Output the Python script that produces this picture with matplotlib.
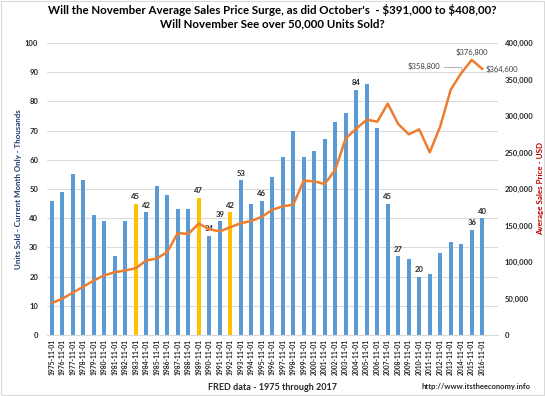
import matplotlib
matplotlib.use("Agg")
import matplotlib.pyplot as plt
import numpy as np

plt.rcParams['font.family'] = ['Lato', 'DejaVu Sans']

years = list(range(1975, 2017))
tick_labels = [f"{y}-11-01" for y in years]

units_sold = [46, 49, 55, 53, 41, 39, 27, 39, 45, 42,
              51, 48, 43, 43, 47, 34, 39, 42, 53, 45,
              46, 54, 61, 70, 61, 63, 67, 73, 76, 84,
              86, 71, 45, 27, 26, 20, 21, 28, 32, 31,
              36, 40]

avg_price = [43700, 49700, 58000, 66200, 74500, 81800, 86000, 88300, 91500, 102000,
             104800, 113600, 139700, 138400, 152600, 144800, 142000, 147600, 153100, 156300,
             161800, 171500, 176300, 178500, 211400, 210500, 206800, 226500, 269400, 282600,
             295000, 292200, 316900, 289000, 274900, 281700, 250200, 285800, 336100, 358800,
             376800, 364600]

highlight_years = [1983, 1989, 1992]
bar_label_years = [1983, 1984, 1989, 1990, 1991, 1992, 1993, 1995, 2004, 2007, 2008, 2010, 2015, 2016]

blue = "#5B9BD5"
gold = "#FFC000"
orange = "#ED7D31"

fig = plt.figure(figsize=(5.45, 3.96), dpi=100)
ax = fig.add_axes([46.5/545, 1 - 335/396, (498 - 46.5)/545, (335 - 43)/396])
ax2 = ax.twinx()

x = np.arange(len(years))
colors = [gold if y in highlight_years else blue for y in years]
bars = ax.bar(x, units_sold, width=0.42, color=colors, zorder=2)

for i, y in enumerate(years):
    if y in bar_label_years:
        ax.text(x[i], units_sold[i] + 1.2, str(units_sold[i]), ha='center', va='bottom',
                fontsize=5.5, fontweight='bold', color='#262626', zorder=4)

ax.set_xlim(-0.5, 42.5)
ax.set_ylim(0, 100)
ax.set_yticks(range(0, 101, 10))
ax.set_xticks(x)
ax.set_xticklabels(tick_labels, rotation=90, fontsize=4.9, fontweight='bold', color='#262626')
ax.tick_params(axis='y', labelsize=5.5, length=0, pad=6, labelcolor='#262626')
ax.tick_params(axis='x', length=0, pad=3)
for lbl in ax.get_yticklabels():
    lbl.set_fontweight('bold')
ax.grid(axis='y', color='#D9D9D9', linewidth=0.7, zorder=0)
for s in ax.spines.values():
    s.set_visible(False)
ax.spines['bottom'].set_visible(True)
ax.spines['bottom'].set_color('#D9D9D9')
ax.set_ylabel("Units Sold - Current Month Only - Thousands", fontsize=5.7, fontweight='bold',
              color='#1F3B73')
ax.yaxis.set_label_coords(-0.054, 0.5)
ax.set_xlabel("FRED data - 1975 through 2017", fontsize=6.5, fontweight='bold', color='#262626')
ax.xaxis.set_label_coords(0.5, -(383 - 335) / 292)

ax2.plot(x, avg_price, color=orange, linewidth=1.8, zorder=3)
ax2.set_ylim(0, 400000)
ax2.set_yticks(range(0, 400001, 50000))
ax2.set_yticklabels([f"{v:,}" for v in range(0, 400001, 50000)], fontsize=5.5, fontweight='bold', color='#262626')
ax2.tick_params(axis='y', length=0, pad=5)
for s in ax2.spines.values():
    s.set_visible(False)
ax2.set_ylabel("Average Sales Price - USD", fontsize=5.8, fontweight='bold', color='#C00000', rotation=90)
ax2.yaxis.set_label_coords((537 - 46.5) / 451.5, 0.5)

i14 = years.index(2014)
i15 = years.index(2015)
i16 = years.index(2016)
ax2.annotate(f"\\${avg_price[i14]:,}", xy=(x[i14], avg_price[i14]), xytext=(x[i14] - 2.0, avg_price[i14] + 9000),
             fontsize=5.5, color='#404040', ha='right', va='center',
             arrowprops=dict(arrowstyle='-', color='#A6A6A6', linewidth=0.6,
                             connectionstyle='angle,angleA=0,angleB=90,rad=0', shrinkA=1, shrinkB=3))
ax2.text(x[i15], avg_price[i15] + 5000, f"\\${avg_price[i15]:,}", fontsize=5.5, color='#404040',
         ha='center', va='bottom')
ax2.text(x[i16] + 0.3, avg_price[i16], f"\\${avg_price[i16]:,}", fontsize=5.5, color='#404040',
         ha='left', va='center')

fig.text(0.5, 1 - 10/396, "Will the November Average Sales Price Surge, as did October's  - \\$391,000 to \\$408,00?",
         ha='center', va='center', fontsize=8.3, fontweight='bold', color='black')
fig.text(0.5, 1 - 24/396, "Will November See over 50,000 Units Sold?",
         ha='center', va='center', fontsize=8.3, fontweight='bold', color='black')
fig.text(530/545, 1 - 386/396, "http://www.itstheeconomy.info", ha='right', va='center',
         fontsize=5.5, fontweight='bold', color='#262626')

fig.patches.append(plt.Rectangle((0.002, 0.002), 0.996, 0.996, transform=fig.transFigure,
                                 fill=False, edgecolor='#D9D9D9', linewidth=0.8))

fig.savefig("out.png", dpi=100)
